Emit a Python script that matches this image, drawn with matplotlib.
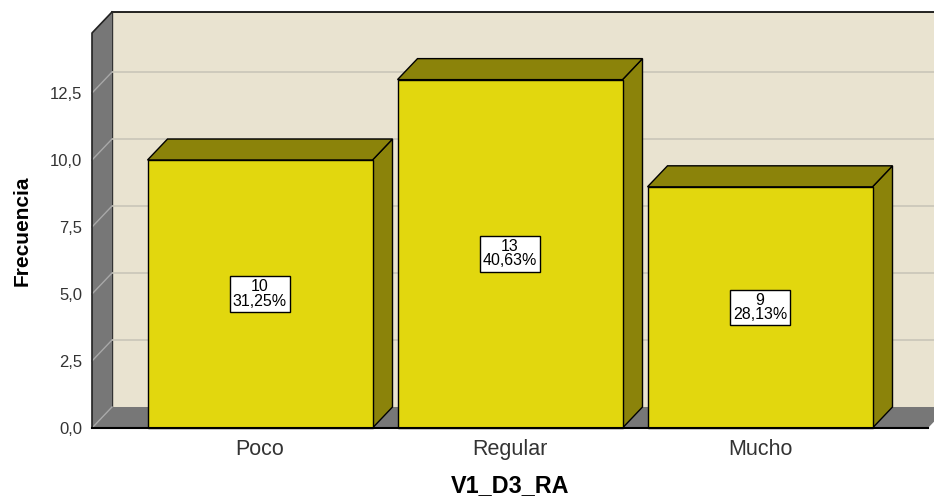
import matplotlib
matplotlib.use("Agg")
from matplotlib import pyplot as plt
from matplotlib.patches import Polygon

plt.rcParams['font.family'] = ['Liberation Sans', 'DejaVu Sans']

# datos de la tabla de frecuencias
categorias = ["Poco", "Regular", "Mucho"]
frecuencias = [10, 13, 9]
porcentajes = [31.25, 40.63, 28.13]
yticks = [0.0, 2.5, 5.0, 7.5, 10.0, 12.5]

# colores estilo SPSS
fondo = "#e9e3d0"
gris = "#777777"
amarillo = "#e2d70e"
oliva = "#8b830a"
rejilla = "#c9c5b8"

W, H = 934, 498
fig = plt.figure(figsize=(W / 100, H / 100), dpi=100)
ax = fig.add_axes([92 / W, 70 / H, (928 - 92) / W, 395 / H])

xmin, xmax = -0.672, 2.672
ymin, ymax = 0, 14.74
ax.set_xlim(xmin, xmax)
ax.set_ylim(ymin, ymax)
ax.patch.set_visible(False)
for s in ax.spines.values():
    s.set_visible(False)

dx, dy = 0.08, 0.784   # profundidad 3D
ancho = 0.9

def poly(pts, fc, ec="black", lw=1.0, z=1):
    p = Polygon(pts, closed=True, facecolor=fc, edgecolor=ec, linewidth=lw,
                clip_on=False, zorder=z, joinstyle="miter")
    ax.add_patch(p)

# pared del fondo
poly([(xmin + dx, dy), (xmax + dx + 0.2, dy), (xmax + dx + 0.2, ymax + dy),
      (xmin + dx, ymax + dy)], fondo, ec="none", z=0)
ax.plot([xmin + dx, xmax + dx + 0.2], [ymax + dy] * 2, color="black", lw=1.2,
        clip_on=False, zorder=0.5)
ax.plot([xmin + dx] * 2, [dy, ymax + dy], color="#333333", lw=1.0,
        clip_on=False, zorder=0.5)

# lineas de rejilla en el fondo y en la pared izquierda
for v in yticks[1:]:
    ax.plot([xmin + dx, xmax + dx + 0.2], [v + dy] * 2, color=rejilla, lw=1.2,
            clip_on=False, zorder=0.6)

# pared izquierda
poly([(xmin, 0), (xmin, ymax), (xmin + dx, ymax + dy), (xmin + dx, dy)],
     gris, ec="none", z=1)
for v in yticks[1:]:
    ax.plot([xmin, xmin + dx], [v, v + dy], color="#a8a8a8", lw=1.0,
            clip_on=False, zorder=1.1)
ax.plot([xmin, xmin, xmin + dx, xmin + dx], [0, ymax, ymax + dy, ymax + dy],
        color="#222222", lw=1.2, clip_on=False, zorder=1.2)

# piso
poly([(xmin, 0), (xmax, 0), (xmax + dx, dy), (xmin + dx, dy)], gris,
     ec="none", z=1)
ax.plot([xmin, xmin + dx], [0, dy], color="#a8a8a8", lw=1.0, clip_on=False,
        zorder=1.1)
ax.plot([xmin, xmax], [0, 0], color="black", lw=1.5, clip_on=False, zorder=5)

# barras 3D
for i, (f, p) in enumerate(zip(frecuencias, porcentajes)):
    x0, x1 = i - ancho / 2, i + ancho / 2
    poly([(x1, 0), (x1 + dx, dy), (x1 + dx, f + dy), (x1, f)], oliva, z=2)
    poly([(x0, f), (x1, f), (x1 + dx, f + dy), (x0 + dx, f + dy)], oliva, z=2)
    poly([(x0, 0), (x1, 0), (x1, f), (x0, f)], amarillo, z=3)
    etiqueta = "%d\n%s%%" % (f, ("%.2f" % p).replace(".", ","))
    ax.text(i, f / 2, etiqueta, ha="center", va="center", fontsize=11.5,
            linespacing=0.92, zorder=6,
            bbox=dict(boxstyle="square,pad=0.2", facecolor="white",
                      edgecolor="black", linewidth=1.0))

ax.set_yticks(yticks)
ax.set_yticklabels([("%.1f" % v).replace(".", ",") for v in yticks],
                   fontsize=12, color="#333333")
ax.set_xticks(range(len(categorias)))
ax.set_xticklabels(categorias, fontsize=15.5, color="#333333")
ax.tick_params(axis="y", length=0, pad=7)
ax.tick_params(axis="x", length=0, pad=8)

ax.set_xlabel("V1_D3_RA", fontsize=16.8, fontweight="bold", labelpad=10)
fig.text(22 / W, 1 - 231 / H, "Frecuencia", rotation=90, ha="center",
         va="center", fontsize=15, fontweight="bold")

fig.savefig("out.png", dpi=100)
